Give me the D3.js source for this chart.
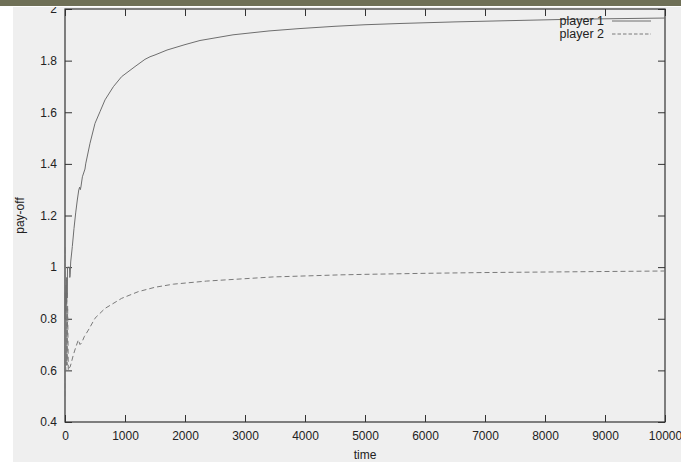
<!DOCTYPE html>
<html>
<head>
<meta charset="utf-8">
<script src="https://cdn.jsdelivr.net/npm/d3@7"></script>
<style>
  html, body { margin: 0; padding: 0; background: #ffffff; }
  svg { display: block; }
  text { font-family: "Liberation Sans", Arial, Helvetica, sans-serif; fill: #222; }
</style>
</head>
<body>
<svg id="chart" width="681" height="462"></svg>
<script>
// Pay-off of each player over time
const times1 = [0, 6, 12, 18, 24, 30, 36, 42, 48, 60, 75, 80, 86, 95, 122, 150, 178, 205, 230, 245, 255, 265, 290, 333, 345, 417, 500, 583, 667, 806, 944, 1167, 1333, 1417, 1500, 1700, 2000, 2250, 2800, 3400, 3900, 4500, 5000, 5600, 6500, 7250, 8200, 9000, 10000];
const payoff1 = [0.80, 0.90, 0.83, 0.93, 0.86, 0.96, 0.88, 1.00, 1.00, 1.00, 1.00, 0.96, 0.97, 1.02, 1.08, 1.15, 1.21, 1.26, 1.30, 1.31, 1.30, 1.31, 1.35, 1.38, 1.40, 1.48, 1.557, 1.602, 1.648, 1.699, 1.738, 1.777, 1.805, 1.815, 1.822, 1.841, 1.862, 1.878, 1.900, 1.915, 1.924, 1.933, 1.939, 1.944, 1.950, 1.954, 1.959, 1.962, 1.965];

const times2 = [0, 4, 8, 12, 18, 24, 30, 36, 44, 55, 70, 83, 100, 139, 180, 222, 250, 278, 320, 389, 500, 667, 944, 1222, 1500, 1806, 2361, 2917, 3472, 4028, 4583, 5000, 6000, 7000, 8000, 9000, 10000];
const payoff2 = [0.50, 0.75, 1.08, 0.60, 0.95, 0.62, 0.90, 0.62, 0.85, 0.60, 0.61, 0.612, 0.625, 0.66, 0.69, 0.718, 0.70, 0.707, 0.73, 0.756, 0.802, 0.840, 0.879, 0.905, 0.922, 0.934, 0.946, 0.954, 0.962, 0.966, 0.970, 0.972, 0.976, 0.979, 0.981, 0.983, 0.985];

const xTicks = [0, 1000, 2000, 3000, 4000, 5000, 6000, 7000, 8000, 9000, 10000];
const yTicks = [0.4, 0.6, 0.8, 1, 1.2, 1.4, 1.6, 1.8, 2];
const seriesNames = ["player 1", "player 2"];

const svg = d3.select("#chart");
const W = 681, H = 462;
const plot = { left: 65, right: 665, top: 9, bottom: 422 };

// page backdrop
svg.append("rect").attr("x", 0).attr("y", 0).attr("width", W).attr("height", H).attr("fill", "#ffffff");
svg.append("rect").attr("x", 13).attr("y", 7).attr("width", W - 13).attr("height", H - 7).attr("fill", "#efefef");

const x = d3.scaleLinear().domain([0, 10000]).range([plot.left, plot.right]);
const y = d3.scaleLinear().domain([0.4, 2]).range([plot.bottom, plot.top]);

const axisColor = "#333";
const tickLen = 7;

function styleAxis(g) {
  g.selectAll(".domain").remove();
  g.selectAll(".tick line").attr("stroke", axisColor).attr("stroke-width", 1);
  g.selectAll(".tick text").attr("font-size", 12).attr("fill", "#222")
    .attr("font-family", '"Liberation Sans", Arial, Helvetica, sans-serif');
}

// bottom axis with labels, ticks pointing into the plot
svg.append("g").attr("transform", `translate(0,${plot.bottom})`)
  .call(d3.axisBottom(x).tickValues(xTicks).tickSize(-tickLen).tickPadding(9).tickFormat(d3.format("d")))
  .call(styleAxis);
// mirrored top ticks
svg.append("g").attr("transform", `translate(0,${plot.top})`)
  .call(d3.axisTop(x).tickValues(xTicks).tickSize(-tickLen).tickFormat(""))
  .call(styleAxis);
// left axis with labels
svg.append("g").attr("transform", `translate(${plot.left},0)`)
  .call(d3.axisLeft(y).tickValues(yTicks).tickSize(-tickLen).tickPadding(8).tickFormat(d => String(+d.toFixed(1))))
  .call(styleAxis);
// mirrored right ticks
svg.append("g").attr("transform", `translate(${plot.right},0)`)
  .call(d3.axisRight(y).tickValues(yTicks).tickSize(-tickLen).tickFormat(""))
  .call(styleAxis);

// plot frame
svg.append("rect")
  .attr("x", plot.left).attr("y", plot.top)
  .attr("width", plot.right - plot.left).attr("height", plot.bottom - plot.top)
  .attr("fill", "none").attr("stroke", axisColor).attr("stroke-width", 1.2);

// series lines
const line = d3.line().x(d => x(d[0])).y(d => y(d[1]));
const data1 = times1.map((t, i) => [t, payoff1[i]]);
const data2 = times2.map((t, i) => [t, payoff2[i]]);

svg.append("path").datum(data2)
  .attr("d", line).attr("fill", "none")
  .attr("stroke", "#7a7a7a").attr("stroke-width", 1)
  .attr("stroke-dasharray", "5,3");

svg.append("path").datum(data1)
  .attr("d", line).attr("fill", "none")
  .attr("stroke", "#6e6e6e").attr("stroke-width", 1);

// legend
const legend = svg.append("g");
const legendRows = [
  { name: seriesNames[0], y: 21, dash: null, color: "#6e6e6e" },
  { name: seriesNames[1], y: 34, dash: "3.5,2", color: "#7a7a7a" }
];
legendRows.forEach(r => {
  legend.append("text").attr("x", 604).attr("y", r.y + 4).attr("text-anchor", "end")
    .attr("font-size", 12.5).text(r.name);
  legend.append("line").attr("x1", 612).attr("x2", 651).attr("y1", r.y).attr("y2", r.y)
    .attr("stroke", r.color).attr("stroke-width", 1)
    .attr("stroke-dasharray", r.dash);
});

// axis titles
svg.append("text").attr("x", (plot.left + plot.right) / 2).attr("y", 459)
  .attr("text-anchor", "middle").attr("font-size", 12).text("time");
svg.append("text").attr("transform", `translate(24,${(plot.top + plot.bottom) / 2}) rotate(-90)`)
  .attr("text-anchor", "middle").attr("font-size", 12).text("pay-off");

// banner strip across the top
svg.append("rect").attr("x", 0).attr("y", 0).attr("width", W).attr("height", 6).attr("fill", "#6f7057");
svg.append("rect").attr("x", 0).attr("y", 6).attr("width", W).attr("height", 1).attr("fill", "#ffffff");
</script>
</body>
</html>
